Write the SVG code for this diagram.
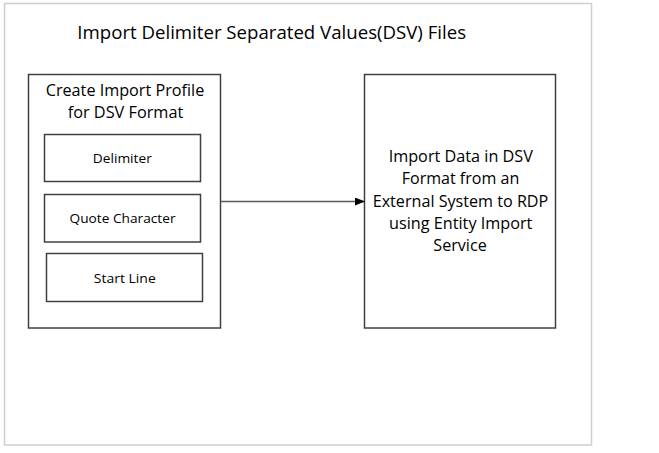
<svg xmlns="http://www.w3.org/2000/svg" width="659" height="453" viewBox="0 0 659 453">
<defs>
<style>
.frame{fill:#fff;stroke:#cfcfcf;stroke-width:1.5}
.box{fill:#fff;stroke:#404040;stroke-width:1.5}
.t{font-family:"Open Sans","Noto Sans",sans-serif;fill:#000;text-anchor:middle}
.big{font-size:17px}
.title{font-size:18.5px}
.small{font-size:13.5px}
.conn{stroke:#595959;stroke-width:1.5;fill:none}
</style>
<marker id="arr" markerWidth="10" markerHeight="8" refX="9" refY="4" orient="auto" markerUnits="userSpaceOnUse">
<path d="M0,0 L10,4 L0,8 Z" fill="#000"/>
</marker>
</defs>
<rect x="0" y="0" width="659" height="453" fill="#fff"/>
<rect class="frame" x="4.5" y="3.5" width="587" height="441.5"/>
<text class="t title" x="271.7" y="39" textLength="388.7" lengthAdjust="spacingAndGlyphs">Import Delimiter Separated Values(DSV) Files</text>
<g id="profile">
<rect class="box" x="28.5" y="74.5" width="192" height="253.5"/>
<text class="t big" x="125" y="96" textLength="158.6" lengthAdjust="spacingAndGlyphs">Create Import Profile</text>
<text class="t big" x="125.5" y="118.3" textLength="115.6" lengthAdjust="spacingAndGlyphs">for DSV Format</text>
</g>
<g id="delimiter">
<rect class="box" x="44.5" y="134.5" width="156" height="47"/>
<text class="t small" x="122.3" y="162.7" textLength="59" lengthAdjust="spacingAndGlyphs">Delimiter</text>
</g>
<g id="quote">
<rect class="box" x="44.5" y="194.5" width="156" height="47.5"/>
<text class="t small" x="122.5" y="222.7" textLength="106" lengthAdjust="spacingAndGlyphs">Quote Character</text>
</g>
<g id="startline">
<rect class="box" x="46.5" y="253.5" width="156" height="48"/>
<text class="t small" x="124.8" y="282.7" textLength="62" lengthAdjust="spacingAndGlyphs">Start Line</text>
</g>
<g id="import">
<rect class="box" x="364.5" y="74.5" width="191" height="253.5"/>
<text class="t big" x="460.8" y="161.7" textLength="144.3" lengthAdjust="spacingAndGlyphs">Import Data in DSV</text>
<text class="t big" x="460.5" y="184.3" textLength="117.6" lengthAdjust="spacingAndGlyphs">Format from an</text>
<text class="t big" x="460.5" y="206.7" textLength="175.6" lengthAdjust="spacingAndGlyphs">External System to RDP</text>
<text class="t big" x="460.7" y="229" textLength="143.3" lengthAdjust="spacingAndGlyphs">using Entity Import</text>
<text class="t big" x="460" y="251" textLength="53.4" lengthAdjust="spacingAndGlyphs">Service</text>
</g>
<g id="connectors">
<line class="conn" x1="221" y1="201.5" x2="364" y2="201.5" marker-end="url(#arr)"/>
</g>
</svg>
